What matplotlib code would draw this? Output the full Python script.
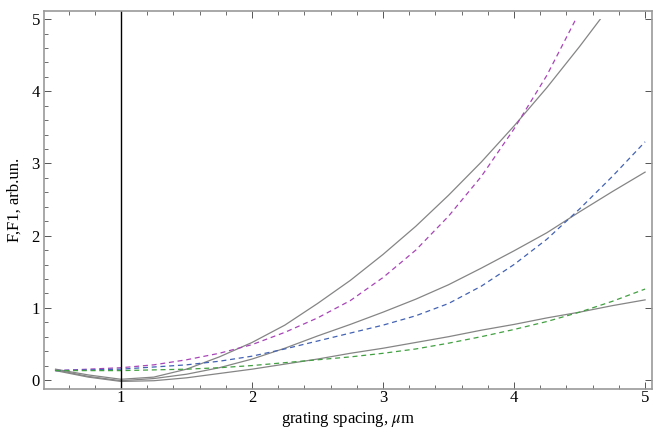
import numpy as np
from matplotlib import pyplot as plt
from matplotlib.ticker import MultipleLocator
import matplotlib.patches as mpatches

plt.rcParams['font.family'] = ['Liberation Serif', 'DejaVu Serif']
plt.rcParams['mathtext.fontset'] = 'stix'

# grating spacing grid (um) for the values
xs = np.array([0.5, 0.75, 1.0, 1.25, 1.5, 1.75, 2.0, 2.25, 2.5, 2.75, 3.0,
               3.25, 3.5, 3.75, 4.0, 4.25, 4.5, 4.75, 5.0])

# solid gray curves F
g1 = [0.15, 0.07, 0.01, 0.04, 0.15, 0.32, 0.52, 0.76, 1.06, 1.38, 1.74,
      2.13, 2.56, 3.02, 3.52, 4.05, 4.62, 5.22, 5.85]
g2 = [0.14, 0.05, -0.01, 0.02, 0.08, 0.17, 0.29, 0.44, 0.61, 0.77, 0.94,
      1.12, 1.32, 1.55, 1.79, 2.04, 2.33, 2.61, 2.88]
g3 = [0.13, 0.04, -0.02, -0.01, 0.03, 0.09, 0.15, 0.22, 0.29, 0.37, 0.44,
      0.52, 0.60, 0.69, 0.77, 0.86, 0.94, 1.03, 1.11]

# dashed curves F1
mag = [0.13, 0.15, 0.17, 0.21, 0.28, 0.37, 0.49, 0.66, 0.86, 1.10, 1.42,
       1.80, 2.27, 2.82, 3.48, 4.22, 5.1, 6.0, 7.0]
blu = [0.13, 0.14, 0.15, 0.18, 0.21, 0.26, 0.33, 0.43, 0.54, 0.65, 0.76,
       0.89, 1.06, 1.30, 1.60, 1.95, 2.37, 2.82, 3.30]
grn = [0.13, 0.13, 0.13, 0.14, 0.15, 0.17, 0.20, 0.24, 0.28, 0.32, 0.37,
       0.43, 0.51, 0.60, 0.70, 0.81, 0.94, 1.09, 1.26]

fig = plt.figure(figsize=(6.54, 4.29), dpi=100)
ax = fig.add_axes([0.0673, 0.0932, 0.9297, 0.8808])

lines = []
for ys in (g1, g2, g3):
    lines += ax.plot(xs, ys, '-', color='#858585', lw=0.9)
lines += ax.plot(xs, mag, '--', color='#a845b8', lw=0.9, dashes=(4, 3))
lines += ax.plot(xs, blu, '--', color='#4262b4', lw=0.9, dashes=(4, 3))
lines += ax.plot(xs, grn, '--', color='#42a042', lw=0.9, dashes=(4, 3))

ax.axvline(1.0, color='black', lw=1.0)

# curves stop at F = 5 (plot range of the original)
clip = mpatches.Rectangle((0.0, -1.0), 6.0, 6.0, transform=ax.transData)
for ln in lines:
    ln.set_clip_path(clip)

ax.set_xlim(0.412, 5.053)
ax.set_ylim(-0.125, 5.11)

ax.xaxis.set_major_locator(MultipleLocator(1))
ax.xaxis.set_minor_locator(MultipleLocator(0.2))
ax.yaxis.set_major_locator(MultipleLocator(1))
ax.yaxis.set_minor_locator(MultipleLocator(0.2))

ax.tick_params(which='both', direction='in', top=True, right=True,
               color='#555555', labelsize=12)
ax.tick_params(which='major', length=5, width=0.7)
ax.tick_params(which='minor', length=3, width=0.6)
ax.tick_params(axis='y', which='minor', right=False)
ax.tick_params(axis='x', pad=1)
ax.tick_params(axis='y', pad=3)

for sp in ax.spines.values():
    sp.set_color('#999999')
    sp.set_linewidth(1.2)

ax.set_xlabel(r'grating spacing, $\mu$m', fontsize=12, labelpad=2.5)
ax.set_ylabel('F,F1, arb.un.', fontsize=12, labelpad=6)

fig.savefig('out.png', dpi=100)
